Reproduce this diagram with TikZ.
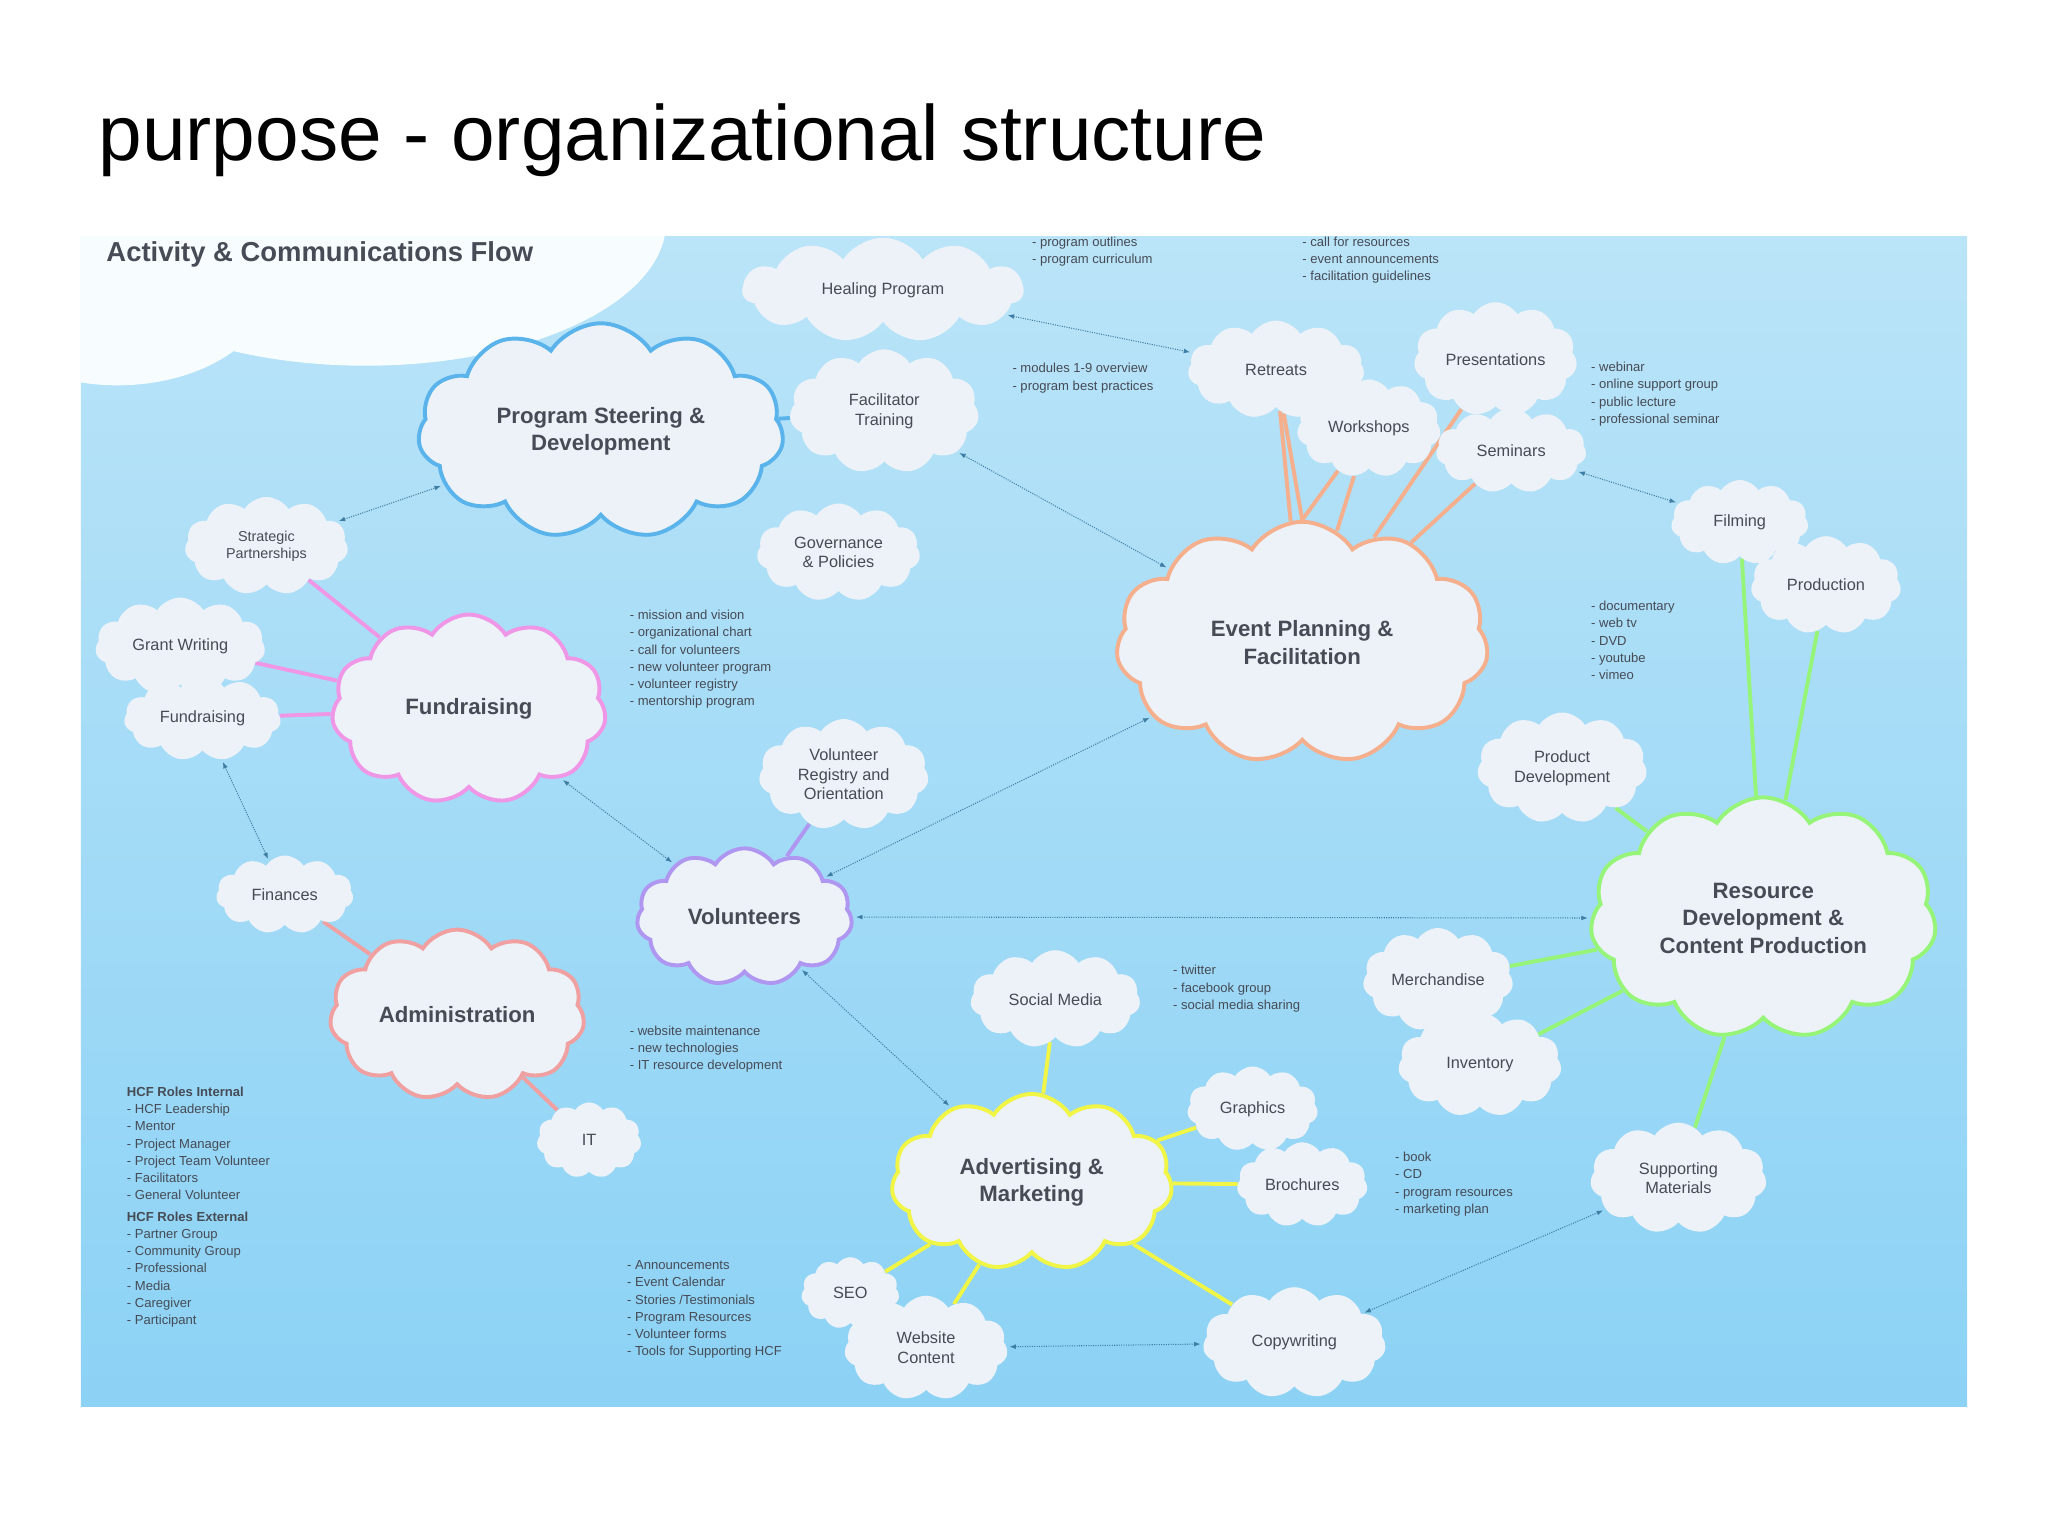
\documentclass[tikz,border=0pt]{standalone}
\usepackage{fontspec}
\setmainfont{Liberation Sans}
\usetikzlibrary{shapes.symbols,backgrounds,arrows.meta}
\definecolor{cfill}{RGB}{236,242,247}
\definecolor{bgtop}{RGB}{186,228,248}
\definecolor{bgbot}{RGB}{140,210,245}
\definecolor{cblue}{RGB}{90,180,235}
\definecolor{cpink}{RGB}{240,150,230}
\definecolor{corange}{RGB}{245,175,140}
\definecolor{cgreen}{RGB}{150,245,120}
\definecolor{cyel}{RGB}{240,245,70}
\definecolor{cpurp}{RGB}{175,150,240}
\definecolor{csalm}{RGB}{240,160,160}
\definecolor{tgray}{RGB}{70,75,85}
\tikzset{
 cl/.code 2 args={\pgfmathsetmacro\myasp{#1/#2}\edef\mytmp{\noexpand\pgfkeysalso{/tikz/aspect=\myasp}}\mytmp
   \pgfkeysalso{/tikz/cloud, /tikz/cloud puffs=11, /tikz/cloud puff arc=115, /tikz/minimum width=#1pt, /tikz/minimum height=#2pt, /tikz/inner sep=0pt, /tikz/fill=cfill, /tikz/text=tgray, /tikz/align=center, /tikz/font=\fontsize{12.5}{15}\selectfont}},
 big/.style={line width=3pt, draw=#1, font=\fontsize{17}{21}\selectfont\bfseries},
 note/.style={anchor=north west, align=left, text=tgray, inner sep=0pt, font=\fontsize{10}{13.2}\selectfont},
 flow/.style={densely dotted, line width=0.8pt, draw=cblue!70!black, {Latex[length=5pt]}-{Latex[length=5pt]}, shorten <=2pt, shorten >=2pt},
 lk/.style={line width=3pt, draw=#1},
}
\begin{document}
\begin{tikzpicture}[x=1pt,y=-1pt]
\useasboundingbox (0,0) rectangle (1568,1176);
\begin{pgfonlayer}{background}
\shade[top color=bgtop, bottom color=bgbot] (62,181) rectangle (1506,1077);
\begin{scope}
\clip (62,181) rectangle (1506,1077);
\fill[white!97!cyan] (280,170) ellipse (230 and 110);
\fill[white!97!cyan] (90,215) ellipse (120 and 80);
\end{scope}
\end{pgfonlayer}
\node[anchor=west, font=\fontsize{60}{66}\selectfont] (title) at (72,107) {purpose - organizational structure};
\node[anchor=west, text=tgray, font=\fontsize{21}{25}\selectfont\bfseries] (act) at (78,195) {Activity \& Communications Flow};

% clouds
\node[cl={215}{80}] (heal) at (676,222) {Healing Program};
\node[cl={280}{165}, big=cblue] (psd) at (460,330) {Program Steering \&\\Development};
\node[cl={145}{95}] (fac) at (677,315) {Facilitator\\Training};
\node[cl={135}{75}] (ret) at (977,283) {Retreats};
\node[cl={125}{85}] (pres) at (1145,275) {Presentations};
\node[cl={110}{75}] (work) at (1048,328) {Workshops};
\node[cl={115}{65}] (sem) at (1157,345) {Seminars};
\node[cl={125}{75}, font=\fontsize{11}{13}\selectfont] (strat) at (204,418) {Strategic\\Partnerships};
\node[cl={125}{75}] (gov) at (642,423) {Governance\\\& Policies};
\node[cl={285}{185}, big=corange] (evt) at (997,492) {Event Planning \&\\Facilitation};
\node[cl={105}{65}] (film) at (1332,400) {Filming};
\node[cl={115}{75}] (prod) at (1398,448) {Production};
\node[cl={130}{75}] (grant) at (138,495) {Grant Writing};
\node[cl={120}{65}] (fs) at (155,550) {Fundraising};
\node[cl={210}{145}, big=cpink] (fund) at (359,543) {Fundraising};
\node[cl={130}{85}] (vreg) at (646,593) {Volunteer\\Registry and\\Orientation};
\node[cl={130}{85}] (pdev) at (1196,588) {Product\\Development};
\node[cl={105}{60}] (fin) at (218,685) {Finances};
\node[cl={165}{105}, big=cpurp] (vol) at (570,702) {Volunteers};
\node[cl={265}{185}, big=cgreen] (res) at (1350,703) {Resource\\Development \&\\Content Production};
\node[cl={195}{125}, big=csalm] (adm) at (350,777) {Administration};
\node[cl={130}{75}] (soc) at (808,765) {Social Media};
\node[cl={115}{75}] (merch) at (1101,750) {Merchandise};
\node[cl={125}{80}] (inv) at (1133,815) {Inventory};
\node[cl={80}{58}] (it) at (451,873) {IT};
\node[cl={100}{65}] (gra) at (959,849) {Graphics};
\node[cl={215}{135}, big=cyel] (adv) at (790,905) {Advertising \&\\Marketing};
\node[cl={100}{65}] (bro) at (997,907) {Brochures};
\node[cl={135}{85}] (sup) at (1285,902) {Supporting\\Materials};
\node[cl={75}{55}] (seo) at (651,990) {SEO};
\node[cl={125}{80}] (web) at (709,1032) {Website\\Content};
\node[cl={140}{85}] (copy) at (991,1028) {Copywriting};

% notes
\node[note] (n1) at (790,181) {- program outlines\\- program curriculum};
\node[note] (n2) at (997,181) {- call for resources\\- event announcements\\- facilitation guidelines};
\node[note] (n3) at (775,278) {- modules 1-9 overview\\- program best practices};
\node[note] (n4) at (1218,277) {- webinar\\- online support group\\- public lecture\\- professional seminar};
\node[note] (n5) at (482,467) {- mission and vision\\- organizational chart\\- call for volunteers\\- new volunteer program\\- volunteer registry\\- mentorship program};
\node[note] (n6) at (1218,460) {- documentary\\- web tv\\- DVD\\- youtube\\- vimeo};
\node[note] (n7) at (898,739) {- twitter\\- facebook group\\- social media sharing};
\node[note] (n8) at (482,785) {- website maintenance\\- new technologies\\- IT resource development};
\node[note] (n9) at (97,832) {\textbf{HCF Roles Internal}\\- HCF Leadership\\- Mentor\\- Project Manager\\- Project Team Volunteer\\- Facilitators\\- General Volunteer\\[3pt]\textbf{HCF Roles External}\\- Partner Group\\- Community Group\\- Professional\\- Media\\- Caregiver\\- Participant};
\node[note] (n10) at (1068,882) {- book\\- CD\\- program resources\\- marketing plan};
\node[note] (n11) at (480,965) {- Announcements\\- Event Calendar\\- Stories /Testimonials\\- Program Resources\\- Volunteer forms\\- Tools for Supporting HCF};

\begin{pgfonlayer}{background}
\draw[lk=cblue] (psd) -- (fac);
\draw[lk=cpink] (fund) -- (strat);
\draw[lk=cpink] (fund) -- (grant);
\draw[lk=cpink] (fund) -- (fs);
\draw[lk=csalm] (adm) -- (fin);
\draw[lk=csalm] (adm) -- (it);
\draw[lk=cpurp] (vol) -- (vreg);
\draw[lk=corange] (evt) -- (ret);
\draw[lk=corange] (evt.north) -- (ret);
\draw[lk=corange] (evt) -- (work);
\draw[lk=corange] (evt.north) -- (work);
\draw[lk=corange] (evt) -- (sem);
\draw[lk=corange] (evt) -- (pres);
\draw[lk=cgreen] (res) -- (film);
\draw[lk=cgreen] (res) -- (prod);
\draw[lk=cgreen] (res) -- (pdev);
\draw[lk=cgreen] (res) -- (merch);
\draw[lk=cgreen] (res) -- (inv);
\draw[lk=cgreen] (res) -- (sup);
\draw[lk=cyel] (adv) -- (soc);
\draw[lk=cyel] (adv) -- (gra);
\draw[lk=cyel] (adv) -- (bro);
\draw[lk=cyel] (adv) -- (seo);
\draw[lk=cyel] (adv) -- (web);
\draw[lk=cyel] (adv) -- (copy);
\end{pgfonlayer}

\draw[flow] (heal) -- (ret);
\draw[flow] (strat) -- (psd);
\draw[flow] (fac) -- (evt);
\draw[flow] (fs) -- (fin);
\draw[flow] (fund) -- (vol);
\draw[flow] (vol) -- (evt);
\draw[flow] (vol) -- (res);
\draw[flow] (vol) -- (adv);
\draw[flow] (sem) -- (film);
\draw[flow] (web) -- (copy);
\draw[flow] (copy) -- (sup);
\end{tikzpicture}
\end{document}
